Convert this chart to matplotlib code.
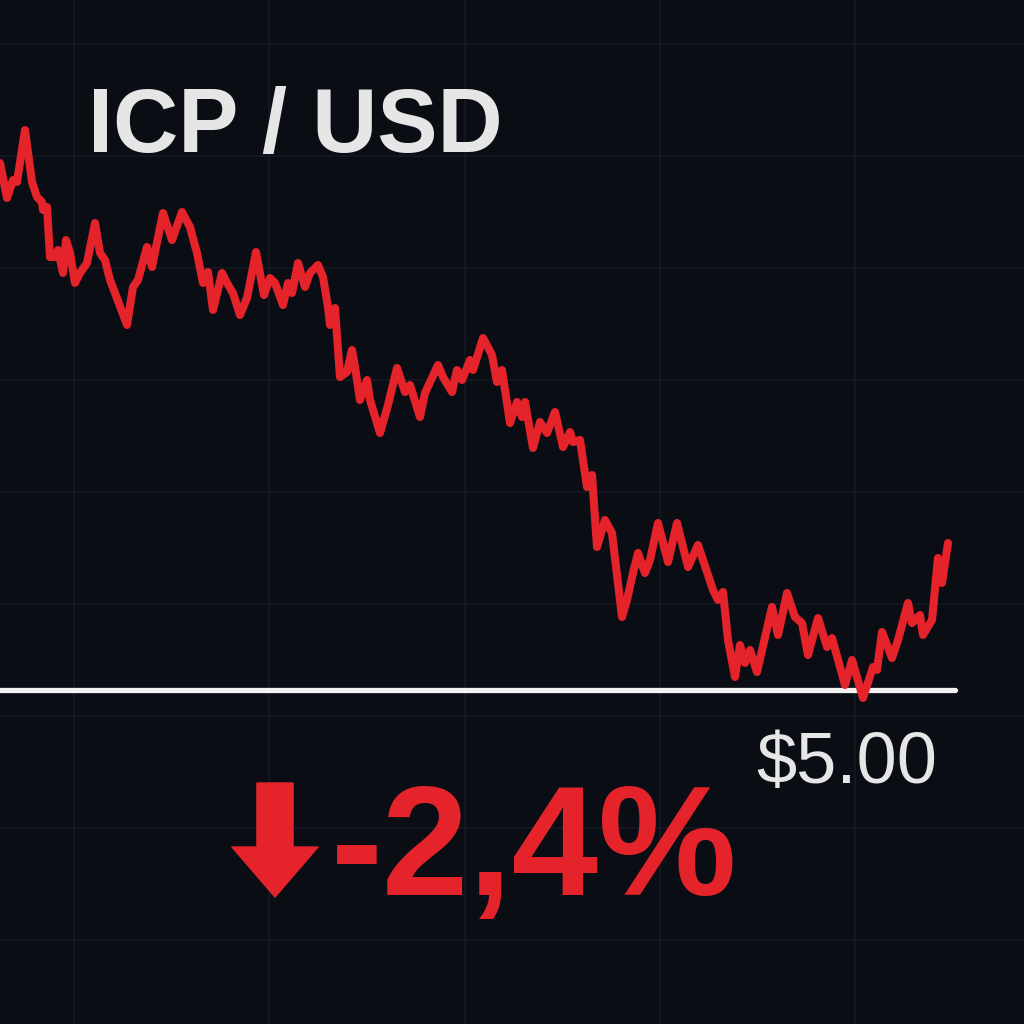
import numpy as np
import matplotlib
matplotlib.use('Agg')
from matplotlib import pyplot as plt
from matplotlib.patches import FancyArrowPatch, ArrowStyle

# time steps (arbitrary units) and ICP price in USD
t = [
	0, 7, 13, 17, 25, 32, 37, 42, 43, 47, 50, 55, 58, 63, 66, 70, 75, 80, 87, 95,
	100, 105, 110, 115, 127, 133, 138, 147, 152, 163, 172, 182, 190, 197, 203, 208, 213, 222, 227, 233,
	240, 247, 256, 264, 270, 275, 283, 288, 292, 298, 305, 310, 318, 323, 328, 330, 335, 340, 347, 352,
	355, 360, 367, 370, 380, 388, 397, 405, 410, 420, 425, 438, 443, 452, 457, 462, 470, 473, 483, 492,
	497, 502, 510, 517, 522, 525, 533, 540, 547, 555, 563, 570, 573, 580, 587, 592, 597, 605, 612, 622,
	627, 633, 638, 645, 650, 658, 668, 677, 688, 698, 713, 718, 723, 728, 735, 740, 745, 750, 757, 772,
	778, 787, 795, 802, 808, 818, 827, 832, 845, 852, 863, 873, 877, 882, 892, 898, 908, 912, 920, 923,
	932, 938, 942, 948,
]
price = [
	5.527, 5.492, 5.510, 5.508, 5.560, 5.508, 5.493, 5.488, 5.480, 5.483, 5.433, 5.433, 5.440, 5.417, 5.450, 5.437, 5.407, 5.417, 5.427, 5.467,
	5.437, 5.430, 5.410, 5.397, 5.365, 5.403, 5.410, 5.443, 5.423, 5.477, 5.450, 5.478, 5.463, 5.437, 5.407, 5.418, 5.380, 5.417, 5.407, 5.397,
	5.375, 5.392, 5.438, 5.395, 5.412, 5.407, 5.385, 5.407, 5.397, 5.427, 5.403, 5.417, 5.425, 5.413, 5.383, 5.365, 5.382, 5.313, 5.318, 5.340,
	5.323, 5.290, 5.310, 5.290, 5.257, 5.285, 5.322, 5.298, 5.305, 5.273, 5.297, 5.325, 5.313, 5.298, 5.320, 5.310, 5.330, 5.320, 5.352, 5.335,
	5.308, 5.320, 5.267, 5.288, 5.273, 5.288, 5.242, 5.268, 5.257, 5.278, 5.243, 5.258, 5.248, 5.250, 5.203, 5.215, 5.143, 5.170, 5.157, 5.073,
	5.090, 5.117, 5.137, 5.117, 5.130, 5.167, 5.128, 5.167, 5.123, 5.145, 5.100, 5.090, 5.098, 5.050, 5.013, 5.045, 5.027, 5.040, 5.018, 5.083,
	5.055, 5.097, 5.073, 5.067, 5.035, 5.072, 5.043, 5.052, 5.005, 5.030, 4.992, 5.023, 5.020, 5.058, 5.032, 5.050, 5.087, 5.067, 5.075, 5.055,
	5.070, 5.132, 5.107, 5.147,
]
support_level = 5.00
support_end = 955
title = 'ICP / USD'
level_label = '$5.00'
change_label = '-2,4%'

bg_color = '#0a0d14'
grid_color = '#151922'
red = '#e4232a'
light = '#e6e6e6'


def main():
	fig = plt.figure(figsize=(10.24, 10.24), dpi=100, facecolor=bg_color)
	ax = fig.add_axes([0, 0, 1, 1])
	ax.set_facecolor(bg_color)
	ax.set_xlim(0, 1024)
	ax.set_ylim(4.666, 5.690)

	# background grid
	ax.set_xticks(np.arange(74, 1024, 195.3))
	ax.set_yticks(np.arange(4.750, 5.690, 0.112))
	ax.grid(True, color=grid_color, linewidth=1.2)
	ax.tick_params(left=False, bottom=False, labelleft=False, labelbottom=False)
	for s in ax.spines.values():
		s.set_visible(False)

	ax.plot([0, support_end], [support_level, support_level], color='#f2f2f2',
		linewidth=3.8, solid_capstyle='round', zorder=3)
	ax.plot(t, price, color=red, linewidth=5.8, solid_joinstyle='round',
		solid_capstyle='round', zorder=4)

	fig.text(88 / 1024, 1 - 152 / 1024, title, color=light, fontsize=65,
		fontweight='bold', family='Liberation Sans', va='baseline', ha='left')
	fig.text(756 / 1024, 1 - 783 / 1024, level_label, color=light, fontsize=52,
		family='Liberation Sans', va='baseline', ha='left')
	fig.text(331 / 1024, 1 - 895 / 1024, change_label, color=red, fontsize=112,
		fontweight='bold', family='Liberation Sans', va='baseline', ha='left')

	arrow = FancyArrowPatch(
		(275 / 1024, 1 - 783 / 1024), (275 / 1024, 1 - 897 / 1024),
		transform=fig.transFigure, color=red, shrinkA=0, shrinkB=0,
		arrowstyle=ArrowStyle.Simple(head_length=36, head_width=62, tail_width=26),
		mutation_scale=1)
	fig.patches.append(arrow)

	fig.savefig('out.png', dpi=100, facecolor=bg_color)


if __name__ == '__main__':
	main()
